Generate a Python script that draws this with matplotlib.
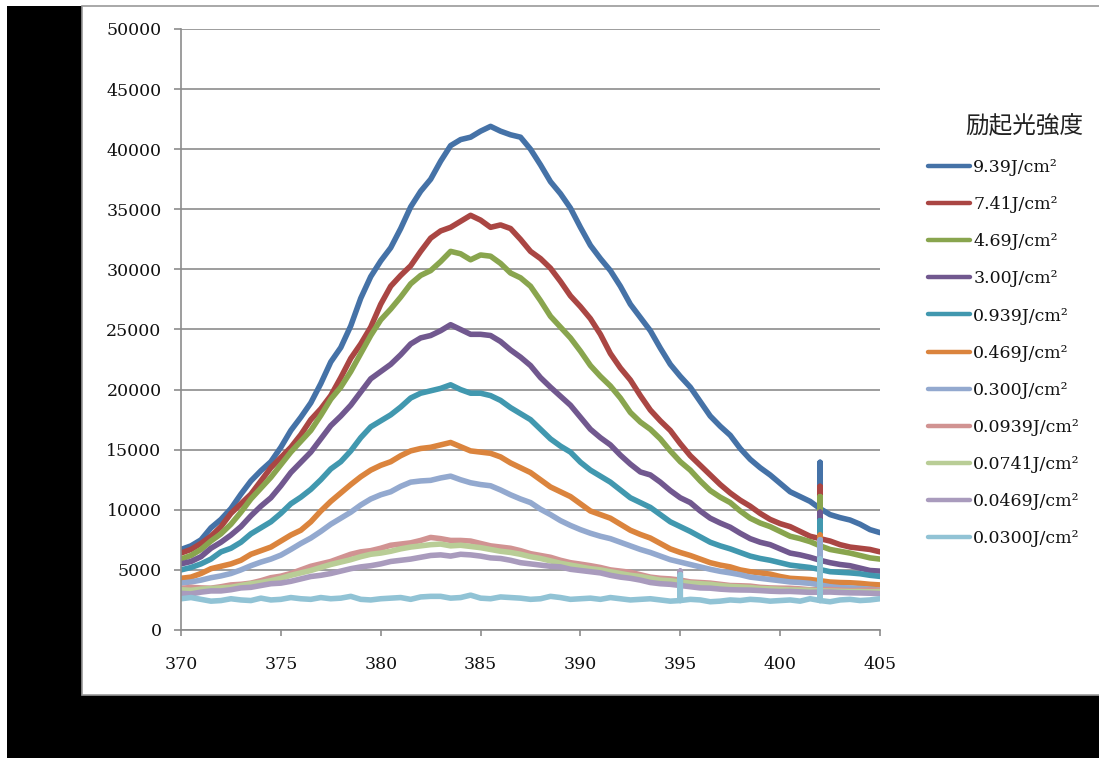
import numpy as np
import matplotlib
matplotlib.use("Agg")
import matplotlib.pyplot as plt
from matplotlib.patches import Rectangle

plt.rcParams['font.family'] = ['DejaVu Serif']

# wavelength grid (nm), every 0.5 nm
wavelength = np.arange(370.0, 405.01, 0.5)

labels = ['9.39J/cm²', '7.41J/cm²', '4.69J/cm²', '3.00J/cm²', '0.939J/cm²',
          '0.469J/cm²', '0.300J/cm²', '0.0939J/cm²', '0.0741J/cm²',
          '0.0469J/cm²', '0.0300J/cm²']
colors = ['#4572A7', '#AA4643', '#89A54E', '#71588F', '#4198AF', '#DB843D',
          '#93A9CF', '#D19392', '#B9CD96', '#A99BBD', '#91C3D5']

# intensity (counts)
i_9_39 = [6700, 7000, 7500, 8500, 9200, 10100, 11300, 12400, 13250, 14000, 15200, 16600,
          17700, 18900, 20500, 22300, 23500, 25300, 27600, 29400, 30700, 31800, 33400, 35200,
          36500, 37500, 39000, 40300, 40800, 41000, 41500, 41900, 41500, 41200, 41000, 40000,
          38700, 37300, 36300, 35100, 33500, 32000, 30900, 29900, 28600, 27100, 26000, 24900,
          23450, 22100, 21100, 20200, 19000, 17800, 16950, 16200, 15100, 14200, 13500, 12900,
          12200, 11500, 11100, 10700, 10100, 9600, 9350, 9150, 8800, 8350, 8100]
i_7_41 = [6400, 6700, 7200, 7800, 8600, 9700, 10500, 11300, 12400, 13500, 14350, 15200,
          16250, 17500, 18400, 19500, 21000, 22600, 23800, 25200, 27100, 28600, 29500, 30300,
          31500, 32600, 33200, 33500, 34000, 34500, 34100, 33500, 33700, 33400, 32500, 31500,
          30900, 30100, 29000, 27800, 26900, 25900, 24600, 23000, 21800, 20800, 19500, 18300,
          17400, 16600, 15500, 14500, 13700, 12900, 12100, 11400, 10800, 10300, 9700, 9200,
          8850, 8600, 8200, 7800, 7600, 7400, 7100, 6900, 6800, 6700, 6500]
i_4_69 = [5900, 6200, 6700, 7400, 8000, 8800, 9800, 10900, 11800, 12700, 13750, 14800,
          15700, 16600, 17850, 19200, 20200, 21500, 23000, 24500, 25800, 26700, 27700, 28800,
          29500, 29900, 30650, 31500, 31300, 30800, 31200, 31100, 30500, 29700, 29300, 28600,
          27400, 26100, 25200, 24300, 23200, 22000, 21100, 20300, 19300, 18100, 17300, 16700,
          15900, 14900, 14000, 13300, 12400, 11600, 11050, 10600, 9900, 9300, 8900, 8600,
          8200, 7800, 7600, 7350, 7000, 6700, 6550, 6400, 6200, 6000, 5900]
i_3_00 = [5500, 5700, 6100, 6800, 7300, 7900, 8600, 9500, 10300, 11000, 12000, 13100,
          13950, 14800, 15900, 17000, 17800, 18700, 19800, 20900, 21500, 22100, 22900, 23800,
          24300, 24500, 24900, 25400, 25000, 24600, 24600, 24500, 24000, 23300, 22700, 22000,
          21000, 20200, 19450, 18700, 17700, 16700, 16000, 15400, 14550, 13800, 13150, 12900,
          12300, 11600, 11000, 10600, 9900, 9300, 8900, 8550, 8050, 7600, 7300, 7100,
          6750, 6400, 6250, 6050, 5800, 5600, 5450, 5350, 5150, 4950, 4900]
i_0_939 = [5000, 5200, 5500, 5900, 6500, 6800, 7300, 8000, 8500, 9000, 9700, 10500,
           11050, 11700, 12500, 13400, 14000, 14900, 16000, 16900, 17400, 17900, 18550, 19300,
           19700, 19900, 20100, 20400, 20000, 19700, 19700, 19500, 19100, 18500, 18000, 17500,
           16700, 15900, 15300, 14800, 13960, 13300, 12800, 12300, 11650, 11000, 10600, 10200,
           9600, 9000, 8600, 8200, 7750, 7300, 7000, 6750, 6450, 6150, 5950, 5800,
           5600, 5400, 5300, 5200, 5030, 4850, 4800, 4750, 4680, 4550, 4460]
i_0_469 = [4300, 4400, 4700, 5100, 5300, 5500, 5800, 6300, 6600, 6900, 7400, 7900,
           8300, 9000, 9900, 10700, 11400, 12100, 12750, 13300, 13700, 14000, 14500, 14900,
           15100, 15200, 15400, 15600, 15250, 14900, 14800, 14700, 14400, 13900, 13500, 13100,
           12500, 11900, 11500, 11100, 10500, 9900, 9600, 9300, 8800, 8300, 7950, 7650,
           7200, 6750, 6450, 6200, 5900, 5600, 5400, 5250, 5000, 4850, 4750, 4650,
           4450, 4300, 4250, 4200, 4100, 3990, 3950, 3930, 3880, 3800, 3750]
i_0_300 = [3900, 4000, 4150, 4350, 4500, 4700, 5000, 5350, 5650, 5900, 6230, 6700,
           7200, 7650, 8200, 8800, 9300, 9800, 10400, 10900, 11250, 11500, 11950, 12300,
           12400, 12450, 12650, 12800, 12500, 12250, 12100, 12000, 11650, 11250, 10900, 10600,
           10050, 9600, 9100, 8700, 8350, 8050, 7800, 7600, 7300, 7000, 6700, 6450,
           6150, 5850, 5650, 5450, 5250, 5050, 4880, 4750, 4600, 4400, 4300, 4200,
           4100, 4000, 3950, 3880, 3750, 3600, 3520, 3500, 3450, 3400, 3310]
i_0_0939 = [3450, 3550, 3500, 3480, 3600, 3750, 3800, 3900, 4100, 4350, 4480, 4700,
            5000, 5300, 5500, 5700, 6000, 6300, 6500, 6600, 6800, 7050, 7150, 7250,
            7450, 7700, 7600, 7450, 7450, 7400, 7200, 7000, 6900, 6800, 6600, 6350,
            6200, 6050, 5800, 5600, 5480, 5350, 5200, 5000, 4900, 4800, 4600, 4400,
            4300, 4250, 4150, 4000, 3950, 3900, 3800, 3700, 3680, 3650, 3550, 3500,
            3480, 3470, 3420, 3350, 3350, 3370, 3320, 3280, 3300, 3330, 3300]
i_0_0741 = [3350, 3300, 3400, 3450, 3500, 3550, 3700, 3850, 3950, 4100, 4300, 4550,
            4750, 4950, 5200, 5450, 5650, 5850, 6100, 6300, 6400, 6550, 6750, 6900,
            7000, 7100, 7150, 7000, 7050, 6950, 6850, 6700, 6550, 6450, 6300, 6100,
            5950, 5750, 5550, 5400, 5250, 5100, 5000, 4850, 4700, 4550, 4450, 4300,
            4150, 4100, 4000, 3900, 3850, 3800, 3700, 3620, 3580, 3530, 3450, 3420,
            3380, 3340, 3320, 3300, 3260, 3240, 3220, 3200, 3200, 3180, 3200]
i_0_0469 = [3050, 3000, 3150, 3250, 3250, 3350, 3500, 3550, 3700, 3850, 3900, 4050,
            4250, 4450, 4550, 4700, 4900, 5100, 5250, 5350, 5500, 5700, 5800, 5900,
            6050, 6200, 6250, 6150, 6300, 6250, 6150, 6000, 5950, 5800, 5600, 5500,
            5400, 5300, 5250, 5050, 4950, 4850, 4750, 4550, 4400, 4300, 4150, 3950,
            3850, 3800, 3700, 3600, 3500, 3480, 3400, 3350, 3330, 3320, 3280, 3230,
            3200, 3210, 3170, 3130, 3150, 3160, 3120, 3090, 3080, 3060, 3020]
i_0_0300 = [2600, 2700, 2550, 2400, 2450, 2600, 2500, 2450, 2650, 2500, 2550, 2700,
            2600, 2550, 2700, 2600, 2650, 2800, 2550, 2500, 2600, 2650, 2700, 2550,
            2750, 2800, 2800, 2650, 2700, 2900, 2650, 2600, 2750, 2700, 2650, 2550,
            2600, 2800, 2700, 2550, 2600, 2650, 2550, 2700, 2600, 2500, 2550, 2600,
            2500, 2400, 2450, 2550, 2500, 2350, 2400, 2500, 2450, 2550, 2500, 2400,
            2450, 2500, 2400, 2600, 2450, 2350, 2500, 2550, 2450, 2500, 2600]

series = [i_9_39, i_7_41, i_4_69, i_3_00, i_0_939, i_0_469, i_0_300,
          i_0_0939, i_0_0741, i_0_0469, i_0_0300]

# single-channel spikes in the spectra (top value per series, None = no spike)
spike_402_top = [13950, 11950, 11100, 9800, 9100, 7900, 7500, 5600, 5500, 5300, 5900]
spike_395_top = [None, None, None, None, None, None, None, None, None, 4900, 4600]
spikes = [(402.0, spike_402_top), (395.0, spike_395_top)]

W, H = 1099, 758
fig = plt.figure(figsize=(W / 100, H / 100), dpi=100)
fig.patch.set_facecolor('white')

# black frame and white chart panel
fig.add_artist(Rectangle((7 / W, 0), 1, (H - 6) / H, transform=fig.transFigure,
                         facecolor='black', edgecolor='none', zorder=-3))
fig.add_artist(Rectangle((82 / W, (H - 695) / H), 1, (695 - 6) / H, transform=fig.transFigure,
                         facecolor='white', edgecolor='#9a9a9a', lw=1.2, zorder=-2))

ax = fig.add_axes([181 / W, (H - 630) / H, 699 / W, 601 / H])
ax.set_facecolor('none')
ax.set_zorder(1)

gray = '#8c8c8c'
handles = []
for vals, lab, col in zip(series, labels, colors):
    assert len(vals) == len(wavelength), lab
    x = wavelength.copy()
    y = np.array(vals, dtype=float)
    i = labels.index(lab)
    for sw, tops in spikes:
        if tops[i] is None:
            continue
        k = int(np.argmin(np.abs(x - sw)))
        x = np.insert(x, k + 1, [sw, sw])
        y = np.insert(y, k + 1, [tops[i], y[k]])
    ln, = ax.plot(x, y, color=col, lw=4.0, solid_joinstyle='round',
                  solid_capstyle='round', label=lab)
    handles.append(ln)

ax.set_xlim(370, 405)
ax.set_ylim(0, 50000)
ax.set_xticks(np.arange(370, 406, 5))
ax.set_yticks(np.arange(0, 50001, 5000))
ax.yaxis.grid(True, color=gray, lw=1.2)
ax.set_axisbelow(True)
for s in ['top', 'right']:
    ax.spines[s].set_visible(False)
for s in ['left', 'bottom']:
    ax.spines[s].set_color(gray)
    ax.spines[s].set_linewidth(1.2)
ax.tick_params(axis='y', length=5, width=1.2, color=gray, pad=9,
               labelsize=12.5, labelcolor='#111111')
ax.tick_params(axis='x', length=4.5, width=1.2, color=gray, pad=14,
               labelsize=12.5, labelcolor='#111111')

leg = ax.legend(handles=handles, loc='upper left',
                bbox_to_anchor=(928 / W, (H - 159) / H), bbox_transform=fig.transFigure,
                frameon=False, fontsize=12.5, handlelength=2.4, handletextpad=0.2,
                labelspacing=1.16, borderpad=0, borderaxespad=0)
for t in leg.get_texts():
    t.set_color('#111111')
for hl in leg.get_lines():
    hl.set_linewidth(3.2)

fig.text(1083 / W, 1 - 126.7 / H, '励起光強度', ha='right', va='center', fontsize=17,
         family=['Noto Sans CJK JP', 'DejaVu Sans'], color='#222222')

fig.savefig('out.png', dpi=100, facecolor=fig.get_facecolor())
